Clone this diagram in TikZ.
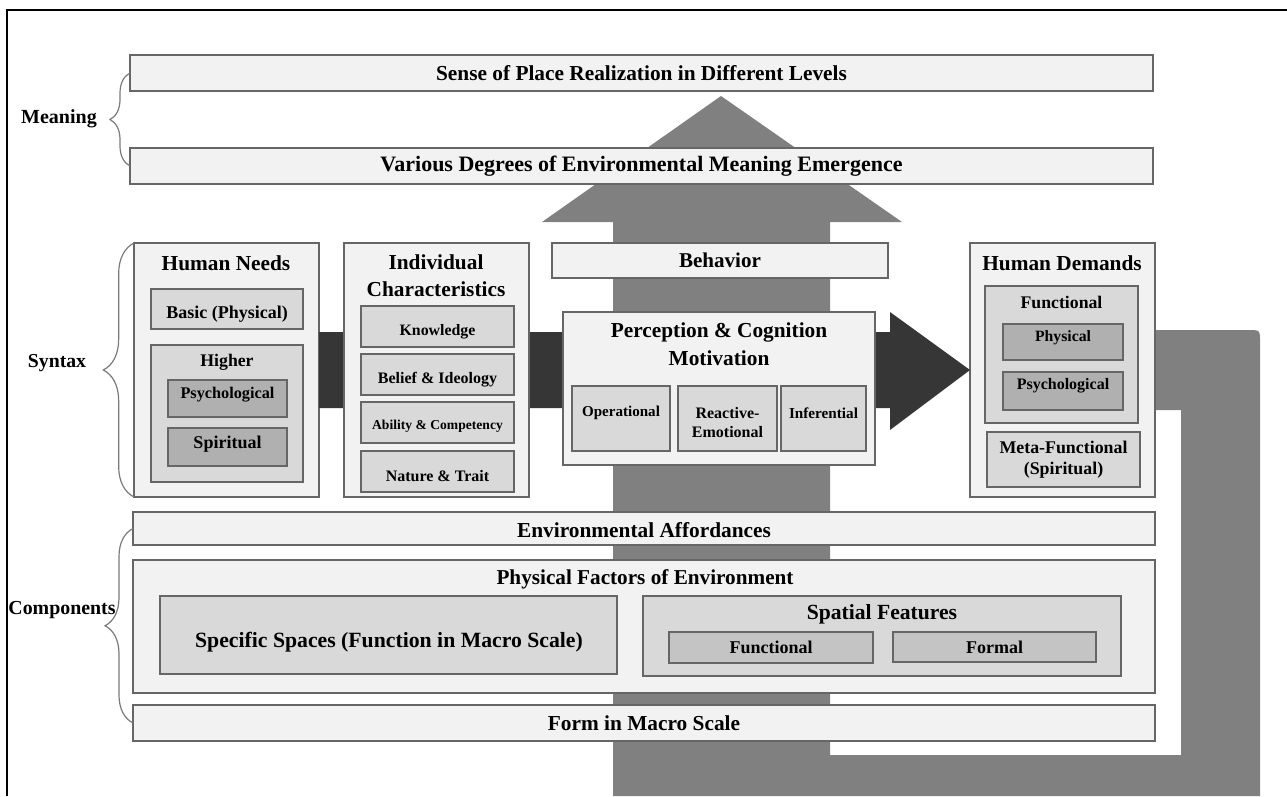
\documentclass[tikz,border=0pt]{standalone}
\usepackage{fontspec}
\setmainfont{Liberation Serif}
\usetikzlibrary{decorations.pathreplacing}
\definecolor{lite}{HTML}{F2F2F2}
\definecolor{midg}{HTML}{D9D9D9}
\definecolor{darkg}{HTML}{B0B0B0}
\definecolor{featg}{HTML}{C4C4C4}
\definecolor{edgeg}{HTML}{666666}
\definecolor{arrowg}{HTML}{808080}
\definecolor{arrowd}{HTML}{363636}
\definecolor{braceg}{HTML}{7A7A7A}
\newcommand\fz[1]{\bfseries\fontsize{#1}{\dimexpr#1pt*6/5\relax}\selectfont}
% box with centred text
\newcommand\bx[7]{%
  \pgfmathsetmacro\bxw{(#4-#2)*0.75}%
  \pgfmathsetmacro\bxh{(#5-#3)*0.75}%
  \node[#6, minimum width=\bxw pt, minimum height=\bxh pt] (#1) at ({(#2+#4)/2},{(#3+#5)/2}) {#7};}
% box with text shifted down by #8 px
\newcommand\bxt[9]{%
  \pgfmathsetmacro\bxw{(#4-#2)*0.75}%
  \pgfmathsetmacro\bxh{(#5-#3)*0.75}%
  \node[#6, minimum width=\bxw pt, minimum height=\bxh pt] (#1) at ({(#2+#4)/2},{(#3+#5)/2}) {};
  \node[txt, #7] (#1-t) at ({(#2+#4)/2},{(#3+#5)/2+#8}) {#9};}
\begin{document}
\begin{tikzpicture}[x=0.75pt,y=-0.75pt,
  box/.style={draw=edgeg, line width=1pt, inner sep=0pt, outer sep=0pt, align=center, text=black},
  lbox/.style={box, fill=lite},
  mbox/.style={box, fill=midg},
  dbox/.style={box, fill=darkg},
  fbox/.style={box, fill=featg},
  txt/.style={inner sep=0pt, outer sep=0pt, align=center, text=black},
  bracem/.style={decorate, decoration={brace, amplitude=15pt}, draw=braceg, line width=0.9pt},
  braces/.style={decorate, decoration={brace, amplitude=23pt}, draw=braceg, line width=0.9pt},
  bracec/.style={decorate, decoration={brace, amplitude=21pt}, draw=braceg, line width=0.9pt}]
\useasboundingbox (0,0) rectangle (1287,796);
% frame
\draw[black, line width=1.1pt] (7,796) -- (7,10) -- (1287,10);

% gray up arrow and loop
\fill[arrowg] (613,796) -- (613,222) -- (542,222) -- (721,96) -- (902,222) -- (830,222) -- (830,796) -- cycle;
\fill[arrowg] (1150,330) -- (1248,330) .. controls (1260,330) .. (1260,342) -- (1260,796) -- (830,796) -- (830,755) -- (1181,755) -- (1181,410) -- (1150,410) -- cycle;

% Meaning level
\bx{b1}{130}{55}{1153}{91}{lbox, font=\fz{16}}{Sense of Place Realization in Different Levels}
\bx{b2}{130}{148}{1153}{184}{lbox, font=\fz{16.5}}{Various Degrees of Environmental Meaning Emergence}
\draw[bracem] (b2.west) -- (b1.west);
\node[txt, font=\fz{15}] (meaning) at (59,119) {Meaning};

% Syntax level
\bx{hn}{134}{243}{319}{497}{lbox}{}
\bx{hd}{970}{243}{1155}{497}{lbox}{}
\fill[arrowd] (hn.east |- 0,332) -- (890,332) -- (890,312) -- (hd.west) -- (890,430) -- (890,408) -- (hn.east |- 0,408) -- cycle;
\node[txt, font=\fz{16}] (hnt) at (226,263) {Human Needs};
\bxt{hnb}{151}{289}{303}{329}{mbox}{font=\fz{13.5}}{5}{Basic (Physical)}
\bx{hnh}{151}{345}{303}{482}{mbox}{}
\node[txt, font=\fz{13.3}] (hnht) at (227,362) {Higher};
\bx{hnp}{168}{380}{287}{417}{dbox}{}
\node[txt, font=\fz{12.2}] (hnpt) at (227.5,395) {Psychological};
\bx{hns}{168}{428}{287}{466}{dbox}{}
\node[txt, font=\fz{13.5}] (hnst) at (227.5,444) {Spiritual};

\bx{ic}{344}{243}{529}{497}{lbox}{}
\node[txt, font=\fz{16}] (ict) at (436,276) {Individual\\[1pt]Characteristics};
\bxt{ic1}{361}{306}{514}{347}{mbox}{font=\fz{11.9}}{5}{Knowledge}
\bxt{ic2}{361}{354}{514}{395}{mbox}{font=\fz{12}}{5}{Belief \& Ideology}
\bxt{ic3}{361}{402}{514}{443}{mbox}{font=\fz{10.2}}{4}{Ability \& Competency}
\bxt{ic4}{361}{451}{514}{492}{mbox}{font=\fz{12}}{5}{Nature \& Trait}

\bx{beh}{552}{243}{888}{278}{lbox, font=\fz{15.8}}{Behavior}
\bx{pc}{563}{312}{875}{465}{lbox}{}
\node[txt, font=\fz{16}] (pct) at (719,344) {Perception \& Cognition\\[2pt]Motivation};
\bx{op}{572}{386}{670}{451}{mbox}{}
\node[txt, font=\fz{11.3}] (opt) at (621,413) {Operational};
\bxt{re}{678}{386}{777}{451}{mbox}{font=\fz{12}}{4}{Reactive-\\Emotional}
\bx{inf}{781}{386}{866}{451}{mbox}{}
\node[txt, font=\fz{11.4}] (inft) at (823.5,413) {Inferential};

\node[txt, font=\fz{16}] (hdt) at (1062,263) {Human Demands};
\bx{fn}{985}{286}{1138}{423}{mbox}{}
\node[txt, font=\fz{13.3}] (fnt) at (1061.5,302) {Functional};
\bx{phy}{1003}{324}{1123}{360}{dbox}{}
\node[txt, font=\fz{11.8}] (phyt) at (1063,338) {Physical};
\bx{psy}{1003}{372}{1123}{410}{dbox}{}
\node[txt, font=\fz{12}] (psyt) at (1063,386) {Psychological};
\bx{meta}{987}{432}{1140}{487}{mbox, font=\fz{13.4}}{Meta-Functional\\(Spiritual)}

\draw[braces] (hn.south west) -- (hn.north west);
\node[txt, font=\fz{14.8}] (syntax) at (57,363) {Syntax};

% Components level
\bxt{env}{133}{512}{1155}{545}{lbox}{font=\fz{16}}{2}{Environmental Affordances}
\bx{pf}{133}{560}{1155}{693}{lbox}{}
\node[txt, font=\fz{15.9}] (pft) at (645,579) {Physical Factors of Environment};
\bx{ss}{160}{596}{617}{674}{mbox}{}
\node[txt, font=\fz{16.3}] (sst) at (389,642) {Specific Spaces (Function in Macro Scale)};
\bx{sf}{643}{596}{1121}{676}{mbox}{}
\node[txt, font=\fz{16.2}] (sft) at (882,614) {Spatial Features};
\bx{sff}{669}{632}{873}{663}{fbox, font=\fz{13.5}}{Functional}
\bx{sfo}{893}{632}{1096}{662}{fbox, font=\fz{13.5}}{Formal}
\bx{form}{133}{705}{1155}{741}{lbox, font=\fz{16}}{Form in Macro Scale}
\draw[bracec] (form.west) -- (env.west);
\node[txt, font=\fz{14.9}] (comp) at (62,610) {Components};
\end{tikzpicture}
\end{document}
